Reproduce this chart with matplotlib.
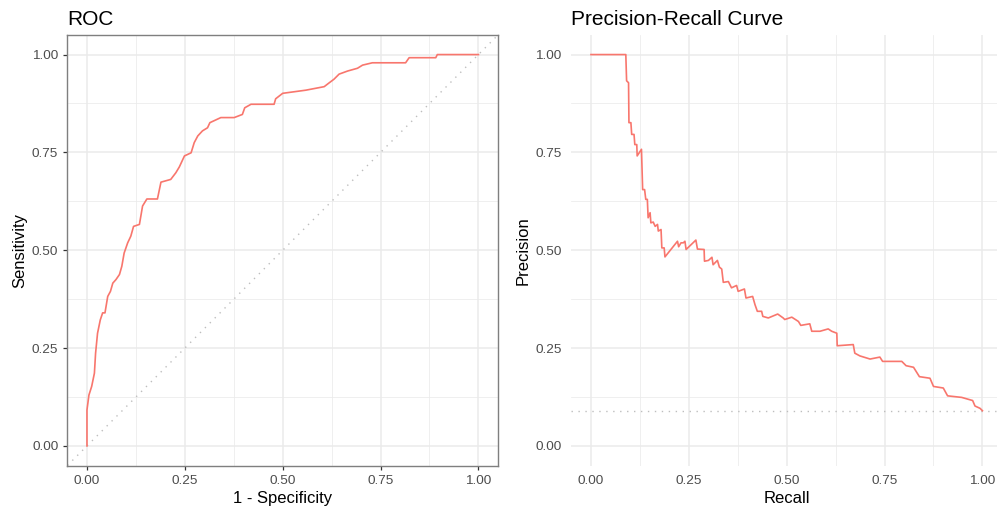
import numpy as np
import matplotlib
matplotlib.use("Agg")
from matplotlib import pyplot as plt
from matplotlib.ticker import MultipleLocator

plt.rcParams['font.family'] = ['Liberation Sans', 'DejaVu Sans']

# ROC curve (1 - specificity, sensitivity)
roc_fpr = [0.0, 0.0, 0.005, 0.012, 0.019, 0.022, 0.027, 0.034, 0.04, 0.046, 0.053, 0.06,
           0.066, 0.074, 0.083, 0.089, 0.095, 0.104, 0.112, 0.119, 0.134, 0.142, 0.153,
           0.18, 0.189, 0.214, 0.227, 0.236, 0.249, 0.266, 0.274, 0.283, 0.295, 0.308,
           0.314, 0.342, 0.376, 0.397, 0.403, 0.419, 0.478, 0.482, 0.5, 0.559, 0.606,
           0.619, 0.631, 0.644, 0.666, 0.691, 0.704, 0.729, 0.814, 0.823, 0.891, 0.895, 1.0]
roc_tpr = [0.0, 0.092, 0.13, 0.152, 0.186, 0.237, 0.288, 0.322, 0.34, 0.34, 0.382, 0.395,
           0.416, 0.425, 0.438, 0.459, 0.493, 0.519, 0.536, 0.561, 0.566, 0.613, 0.631,
           0.631, 0.674, 0.681, 0.698, 0.713, 0.741, 0.749, 0.775, 0.792, 0.805, 0.813,
           0.826, 0.839, 0.839, 0.847, 0.864, 0.873, 0.873, 0.887, 0.901, 0.909, 0.918,
           0.928, 0.937, 0.95, 0.958, 0.965, 0.973, 0.979, 0.979, 0.992, 0.992, 1.0, 1.0]

# Precision-recall curve
pr_recall = [0.0, 0.089, 0.091, 0.096, 0.097, 0.102, 0.104, 0.11, 0.112, 0.117, 0.118, 0.129,
             0.132, 0.137, 0.14, 0.144, 0.146, 0.151, 0.153, 0.159, 0.164, 0.17, 0.172, 0.179,
             0.181, 0.187, 0.189, 0.221, 0.224, 0.23, 0.236, 0.24, 0.243, 0.268, 0.272, 0.289,
             0.29, 0.3, 0.309, 0.312, 0.323, 0.328, 0.334, 0.338, 0.351, 0.359, 0.372, 0.376,
             0.392, 0.396, 0.413, 0.419, 0.425, 0.436, 0.439, 0.453, 0.477, 0.491, 0.495,
             0.513, 0.53, 0.536, 0.559, 0.564, 0.585, 0.606, 0.615, 0.628, 0.629, 0.67, 0.674,
             0.687, 0.713, 0.738, 0.745, 0.794, 0.805, 0.824, 0.839, 0.866, 0.875, 0.9, 0.911,
             0.947, 0.975, 0.981, 0.994, 1.0]
pr_precision = [1.0, 1.0, 0.933, 0.928, 0.826, 0.826, 0.796, 0.796, 0.77, 0.77, 0.741, 0.758,
                0.655, 0.655, 0.63, 0.63, 0.583, 0.596, 0.57, 0.572, 0.561, 0.566, 0.549, 0.553,
                0.506, 0.506, 0.483, 0.523, 0.509, 0.519, 0.519, 0.523, 0.502, 0.526, 0.503,
                0.502, 0.472, 0.474, 0.482, 0.463, 0.474, 0.457, 0.452, 0.418, 0.42, 0.404,
                0.41, 0.395, 0.401, 0.378, 0.382, 0.361, 0.344, 0.344, 0.331, 0.327, 0.337,
                0.327, 0.323, 0.329, 0.318, 0.308, 0.312, 0.293, 0.293, 0.299, 0.293, 0.288,
                0.256, 0.259, 0.237, 0.23, 0.222, 0.227, 0.216, 0.216, 0.205, 0.201, 0.177,
                0.173, 0.152, 0.148, 0.128, 0.124, 0.116, 0.102, 0.096, 0.09]
baseline = 0.088

ticks = [0.0, 0.25, 0.5, 0.75, 1.0]
tick_labels = ["0.00", "0.25", "0.50", "0.75", "1.00"]
line_col = "#F8766D"

W, H = 997, 516
fig = plt.figure(figsize=(W / 100, H / 100), dpi=100)
ax1 = fig.add_axes([67.4 / W, 1 - 465.5 / H, 430.6 / W, 430.5 / H])
ax2 = fig.add_axes([571.4 / W, 1 - 465.5 / H, 430.6 / W, 430.5 / H])


def style(ax, border):
    ax.set_xlim(-0.05, 1.05)
    ax.set_ylim(-0.05, 1.05)
    ax.set_xticks(ticks)
    ax.set_xticklabels(tick_labels)
    ax.set_yticks(ticks)
    ax.set_yticklabels(tick_labels)
    ax.xaxis.set_minor_locator(MultipleLocator(0.125))
    ax.yaxis.set_minor_locator(MultipleLocator(0.125))
    ax.grid(which='major', color='#EBEBEB', linewidth=1.1)
    ax.grid(which='minor', color='#EBEBEB', linewidth=0.55)
    ax.set_axisbelow(True)
    ax.tick_params(which='minor', length=0)
    for s in ax.spines.values():
        s.set_visible(border)
        s.set_color('#7F7F7F')
        s.set_linewidth(1.0)
    if border:
        ax.tick_params(which='major', length=3, width=0.9, color='#333333',
                       labelsize=9.7, labelcolor='#4D4D4D', pad=3.5)
    else:
        ax.tick_params(which='major', length=0, labelsize=9.7, labelcolor='#4D4D4D', pad=7)


style(ax1, True)
ax1.plot([-0.05, 1.05], [-0.05, 1.05], color='#BEBEBE', linestyle=(0, (1, 4)), linewidth=1.0)
ax1.plot(roc_fpr, roc_tpr, color=line_col, linewidth=1.2)
ax1.set_xlabel("1 - Specificity", fontsize=12, labelpad=3)
ax1.set_ylabel("Sensitivity", fontsize=12, labelpad=3)
ax1.set_title("ROC", fontsize=15, loc='left', pad=7)

style(ax2, False)
ax2.axhline(baseline, color='#BEBEBE', linestyle=(0, (1, 4)), linewidth=1.0)
ax2.plot(pr_recall, pr_precision, color=line_col, linewidth=1.2)
ax2.set_xlabel("Recall", fontsize=12, labelpad=3)
ax2.set_ylabel("Precision", fontsize=12, labelpad=3)
ax2.set_title("Precision-Recall Curve", fontsize=15, loc='left', pad=7)

fig.savefig("out.png", dpi=100)
